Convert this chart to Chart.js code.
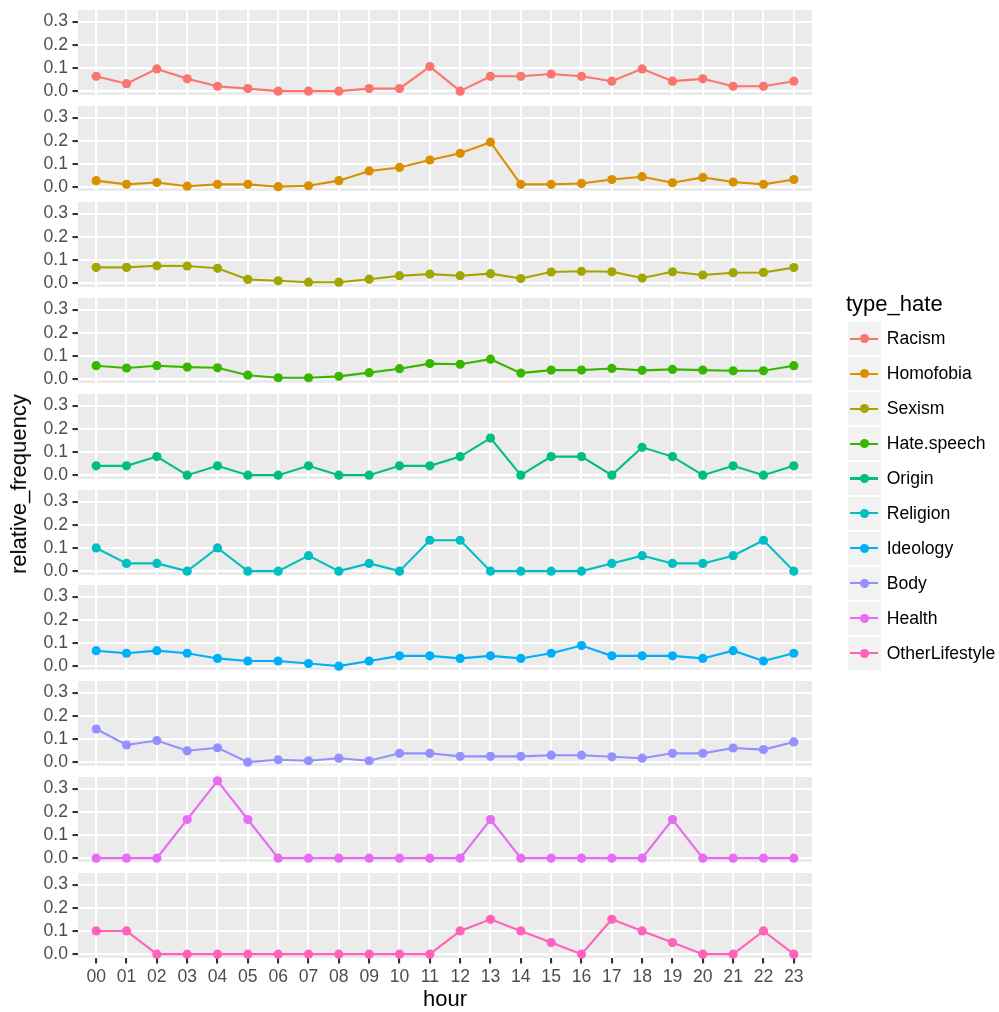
<!DOCTYPE html>
<html><head><meta charset="utf-8">
<script src="https://cdn.jsdelivr.net/npm/chart.js@4.4.1/dist/chart.umd.min.js"></script>
<style>
html,body{margin:0;padding:0;background:#fff;}
#wrap{position:relative;width:999px;height:1012px;overflow:hidden;font-family:"Liberation Sans",Arial,Helvetica,sans-serif;}
#wrap canvas{position:absolute;left:0;}
.t{position:absolute;white-space:nowrap;color:#000;}
.key{position:absolute;width:33px;height:33px;background:#F2F2F2;}
.kline{position:absolute;left:2.3px;width:28.3px;height:2.1px;top:15.45px;}
.kdot{position:absolute;left:11.9px;top:11.9px;width:9.2px;height:9.2px;border-radius:50%;}
.lab{position:absolute;height:33px;display:flex;align-items:center;font-size:17.6px;color:#000;white-space:nowrap;}
</style></head><body><div id="wrap"></div>
<script>
// ---- data ----
const hours = ['00','01','02','03','04','05','06','07','08','09','10','11','12','13','14','15','16','17','18','19','20','21','22','23'];
const typeNames = ['Racism','Homofobia','Sexism','Hate.speech','Origin','Religion','Ideology','Body','Health','OtherLifestyle'];
const colors = ['#F8766D','#D89000','#A3A500','#39B600','#00BF7D','#00BFC4','#00B0F6','#9590FF','#E76BF3','#FF62BC'];
const racism = [0.064,0.032,0.096,0.053,0.021,0.011,0,0,0,0.011,0.011,0.106,0,0.064,0.064,0.074,0.064,0.043,0.096,0.043,0.053,0.021,0.021,0.043];
const homofobia = [0.028,0.012,0.020,0.004,0.012,0.012,0.002,0.006,0.028,0.070,0.085,0.117,0.146,0.194,0.012,0.012,0.016,0.033,0.045,0.019,0.042,0.022,0.012,0.033];
const sexism = [0.068,0.068,0.075,0.074,0.064,0.016,0.010,0.004,0.004,0.017,0.032,0.039,0.032,0.041,0.020,0.048,0.051,0.049,0.022,0.049,0.035,0.045,0.046,0.067];
const hateSpeech = [0.058,0.048,0.058,0.052,0.049,0.017,0.006,0.006,0.012,0.028,0.045,0.067,0.064,0.086,0.026,0.039,0.039,0.046,0.038,0.042,0.039,0.036,0.036,0.058];
const origin = [0.04,0.04,0.08,0,0.04,0,0,0.04,0,0,0.04,0.04,0.08,0.16,0,0.08,0.08,0,0.12,0.08,0,0.04,0,0.04];
const religion = [0.1,0.0333,0.0333,0,0.1,0,0,0.0667,0,0.0333,0,0.1333,0.1333,0,0,0,0,0.0333,0.0667,0.0333,0.0333,0.0667,0.1333,0];
const ideology = [0.0667,0.0556,0.0667,0.0556,0.0333,0.0222,0.0222,0.0111,0,0.0222,0.0444,0.0444,0.0333,0.0444,0.0333,0.0556,0.0889,0.0444,0.0444,0.0444,0.0333,0.0667,0.0222,0.0556];
const body = [0.143,0.074,0.093,0.049,0.062,0,0.010,0.006,0.017,0.006,0.038,0.038,0.025,0.025,0.025,0.030,0.030,0.023,0.017,0.038,0.038,0.061,0.054,0.087];
const health = [0,0,0,0.1667,0.3333,0.1667,0,0,0,0,0,0,0,0.1667,0,0,0,0,0,0.1667,0,0,0,0];
const otherLifestyle = [0.1,0.1,0,0,0,0,0,0,0,0,0,0,0.1,0.15,0.1,0.05,0,0.15,0.1,0.05,0,0,0.1,0];
const yMajorTicks = [0,0.1,0.2,0.3];
const yMinorTicks = [0.05,0.15,0.25];
const series = [racism,homofobia,sexism,hateSpeech,origin,religion,ideology,body,health,otherLifestyle];

// ---- layout ----
const FONT = '"Liberation Sans", Arial, Helvetica, sans-serif';
const wrap = document.getElementById('wrap');
const panelBg = {
  id: 'panelBg',
  beforeDraw(chart) {
    const {ctx, chartArea: a} = chart;
    ctx.save();
    ctx.fillStyle = '#EBEBEB';
    ctx.fillRect(a.left, a.top, a.right - a.left, a.bottom - a.top);
    ctx.restore();
  }
};
const yTickList = yMajorTicks.map(v => ({value: v, major: true}))
  .concat(yMinorTicks.map(v => ({value: v, major: false})))
  .sort((a, b) => a.value - b.value);

series.forEach((vals, i) => {
  const isLast = i === series.length - 1;
  const top = Math.round(10 + 95.9 * i);
  const W = 830, H = isLast ? 10 + 85 + 40 : 105;
  const c = document.createElement('canvas');
  c.width = W; c.height = H;
  c.style.width = W + 'px'; c.style.height = H + 'px';
  c.style.top = (top - 10) + 'px';
  wrap.appendChild(c);
  new Chart(c, {
    type: 'line',
    data: {
      datasets: [{
        label: typeNames[i],
        data: vals.map((v, k) => ({x: k, y: v})),
        borderColor: colors[i],
        backgroundColor: colors[i],
        pointBackgroundColor: colors[i],
        borderWidth: 2.1,
        pointRadius: 4.6,
        pointHoverRadius: 4.6,
        pointBorderWidth: 0,
        tension: 0,
        clip: false
      }]
    },
    options: {
      responsive: false,
      animation: false,
      events: [],
      layout: {padding: {top: 10, bottom: isLast ? 0 : 10, left: 0, right: 18}},
      plugins: {legend: {display: false}, tooltip: {enabled: false}},
      scales: {
        x: {
          type: 'linear', min: -0.6, max: 23.6,
          afterBuildTicks: s => { s.ticks = hours.map((h, k) => ({value: k})); },
          afterFit: s => { s.height = isLast ? 40 : 0; s.paddingLeft = 0; s.paddingRight = 0; },
          border: {display: false},
          grid: {color: '#FFFFFF', lineWidth: 2.1, drawTicks: isLast, tickLength: isLast ? 5.5 : 0, tickColor: '#333333', tickWidth: 2.1},
          ticks: {display: isLast, autoSkip: false, maxRotation: 0, minRotation: 0, padding: 3, color: '#4D4D4D',
                  font: {family: FONT, size: 17.6}, callback: v => hours[v]}
        },
        y: {
          min: -0.0166667, max: 0.35,
          afterBuildTicks: s => { s.ticks = yTickList.map(t => ({value: t.value, major: t.major})); },
          afterFit: s => { s.width = 78; s.paddingTop = 0; s.paddingBottom = 0; },
          border: {display: false},
          grid: {
            color: '#FFFFFF',
            lineWidth: ctx => (ctx.tick && ctx.tick.major) ? 2.1 : 1.07,
            tickColor: ctx => (ctx.tick && ctx.tick.major) ? '#333333' : 'rgba(0,0,0,0)',
            tickLength: 5.5, tickWidth: 2.1
          },
          ticks: {padding: 4.5, color: '#4D4D4D', font: {family: FONT, size: 17.6},
                  callback: (v, idx, ticks) => ticks[idx].major ? Number(v).toFixed(1) : ''}
        }
      }
    },
    plugins: [panelBg]
  });
});

// ---- axis titles ----
const xt = document.createElement('div');
xt.className = 't';
xt.textContent = 'hour';
xt.style.cssText += 'font-size:22px;line-height:22px;left:445px;top:988px;transform:translateX(-50%);';
wrap.appendChild(xt);

const yt = document.createElement('div');
yt.className = 't';
yt.textContent = 'relative_frequency';
yt.style.cssText += 'font-size:22px;line-height:22px;left:19px;top:483.5px;transform:translate(-50%,-50%) rotate(-90deg);';
wrap.appendChild(yt);

// ---- legend ----
const lt = document.createElement('div');
lt.className = 't';
lt.textContent = 'type_hate';
lt.style.cssText += 'font-size:22px;line-height:22px;left:846px;top:293px;';
wrap.appendChild(lt);

typeNames.forEach((name, i) => {
  const ty = 322.3 + i * 34.93;
  const k = document.createElement('div');
  k.className = 'key';
  k.style.left = '847.7px';
  k.style.top = ty + 'px';
  const ln = document.createElement('div');
  ln.className = 'kline';
  ln.style.background = colors[i];
  const dt = document.createElement('div');
  dt.className = 'kdot';
  dt.style.background = colors[i];
  k.appendChild(ln); k.appendChild(dt);
  wrap.appendChild(k);
  const lb = document.createElement('div');
  lb.className = 'lab';
  lb.style.left = '886.7px';
  lb.style.top = ty + 'px';
  lb.textContent = name;
  wrap.appendChild(lb);
});
</script>
</body></html>
